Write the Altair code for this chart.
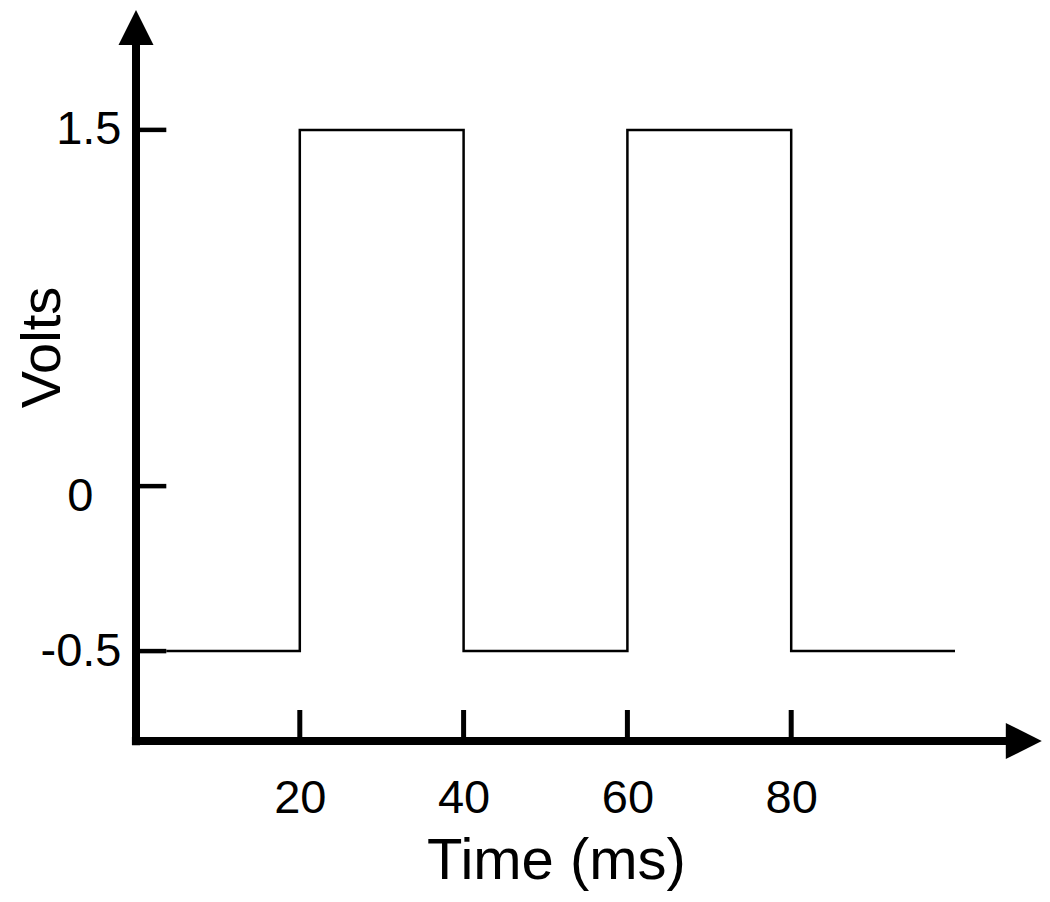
import altair as alt
import pandas as pd

# ---- data ----
time_ms = [3.7, 20, 40, 60, 80, 100]          # step change times (ms)
volts = [-0.5, 1.5, -0.5, 1.5, -0.5, -0.5]    # level after each change (V)
x_tick_values = [20, 40, 60, 80]
x_tick_labels = ["20", "40", "60", "80"]
y_tick_values = [-0.5, 0.133, 1.5]            # where the tick marks sit on the drawing
y_tick_labels = ["-0.5", "0", "1.5"]

# ---- layout constants ----
W, H = 906, 731
X_MIN, X_MAX = 0, 906 / 8.19
Y_MIN, Y_MAX = -0.845, 1.96
FONT = "Liberation Sans"

xs = alt.Scale(domain=[X_MIN, X_MAX], nice=False, zero=False)
ys = alt.Scale(domain=[Y_MIN, Y_MAX], nice=False, zero=False)


def label_expr(values, labels):
    expr = "''"
    for v, l in zip(values, labels):
        expr = f"abs(datum.value - ({v})) < 1e-6 ? '{l}' : ({expr})"
    return expr


zero_test = f"abs(datum.value - ({y_tick_values[1]})) < 1e-6"

x_axis = alt.Axis(
    values=x_tick_values, labelExpr=label_expr(x_tick_values, x_tick_labels),
    domain=False, ticks=False, tickSize=0, grid=False,
    labelFont=FONT, labelFontSize=47, labelColor="black", labelPadding=34,
    labelFlush=False, labelOverlap=False,
    title="Time (ms)", titleFont=FONT, titleFontSize=58, titleFontWeight="normal",
    titleColor="black", titleX=420, titleY=137, titleBaseline="alphabetic", titleAlign="center",
)
y_axis = alt.Axis(
    values=y_tick_values, labelExpr=label_expr(y_tick_values, y_tick_labels),
    domain=False, ticks=False, tickSize=0, grid=False,
    labelFont=FONT, labelFontSize=47, labelColor="black",
    labelPadding={"condition": {"test": zero_test, "value": 43}, "value": 15},
    labelOffset={"condition": {"test": zero_test, "value": 10}, "value": 0},
    labelFlush=False, labelOverlap=False, labelBaseline="middle",
    title="Volts", titleFont=FONT, titleFontSize=56, titleFontWeight="normal",
    titleColor="black", titleAngle=270, titleX=-77, titleY=337,
    titleBaseline="alphabetic", titleAlign="center",
)

wave_df = pd.DataFrame({"t": time_ms, "v": volts})
wave = alt.Chart(wave_df).mark_line(interpolate="step-after", color="black", strokeWidth=2.5).encode(
    x=alt.X("t:Q", scale=xs, axis=x_axis),
    y=alt.Y("v:Q", scale=ys, axis=y_axis),
)

# axis lines
yline = alt.Chart(pd.DataFrame({"x": [0], "y": [Y_MIN - 0.016], "y2": [1.83]})).mark_rule(
    color="black", strokeWidth=8, strokeCap="butt").encode(
    x=alt.X("x:Q", scale=xs), y=alt.Y("y:Q", scale=ys), y2="y2:Q")
xline = alt.Chart(pd.DataFrame({"x": [-0.5], "x2": [106.3], "y": [Y_MIN]})).mark_rule(
    color="black", strokeWidth=8, strokeCap="butt").encode(
    x=alt.X("x:Q", scale=xs), x2="x2:Q", y=alt.Y("y:Q", scale=ys))

# tick marks pointing into the plot
yticks = alt.Chart(pd.DataFrame({"y": y_tick_values, "x": [0] * 3, "x2": [3.7] * 3})).mark_rule(
    color="black", strokeWidth=4.5, strokeCap="butt").encode(
    x=alt.X("x:Q", scale=xs), x2="x2:Q",
    y=alt.Y("y:Q", scale=ys))
xticks = alt.Chart(pd.DataFrame({"x": x_tick_values, "y": [Y_MIN] * 4, "y2": [-0.726] * 4})).mark_rule(
    color="black", strokeWidth=5, strokeCap="butt").encode(
    x=alt.X("x:Q", scale=xs),
    y=alt.Y("y:Q", scale=ys), y2="y2:Q")

# arrowheads
up_arrow = alt.Chart(pd.DataFrame({"x": [0], "y": [1.893]})).mark_point(
    shape="M-1,1L0,-1L1,1Z", filled=True, color="black", opacity=1, size=1225, strokeWidth=0).encode(
    x=alt.X("x:Q", scale=xs), y=alt.Y("y:Q", scale=ys))
right_arrow = alt.Chart(pd.DataFrame({"x": [108.4], "y": [Y_MIN]})).mark_point(
    shape="M-1,-1L1,0L-1,1Z", filled=True, color="black", opacity=1, size=1296, strokeWidth=0).encode(
    x=alt.X("x:Q", scale=xs), y=alt.Y("y:Q", scale=ys))

chart = alt.layer(wave, yline, xline, yticks, xticks, up_arrow, right_arrow).properties(
    width=W, height=H,
    padding={"left": 128, "top": 2, "right": 0, "bottom": 151},
    autosize=alt.AutoSizeParams(type="none"),
    background="white",
).configure_view(stroke=None)

chart.save("out.html", embed_options={"renderer": "svg", "actions": False})
